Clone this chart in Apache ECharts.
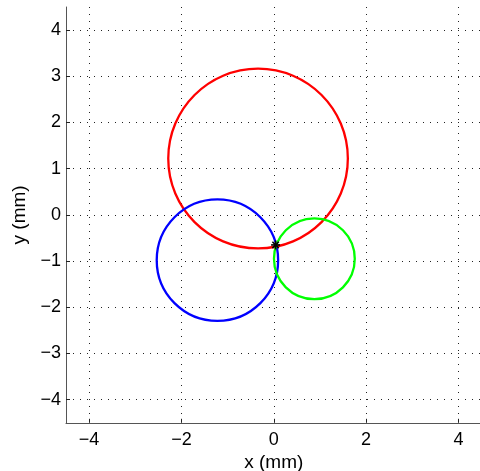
<!DOCTYPE html>
<html>
<head>
<meta charset="utf-8">
<script src="https://cdn.jsdelivr.net/npm/echarts@6/dist/echarts.min.js"></script>
<style>
html,body{margin:0;padding:0;background:#fff;}
#chart{width:480px;height:471px;}
</style>
</head>
<body>
<div id="chart"></div>
<script>
// circles: [centerX, centerY, radius] in mm
const redCircle = [[-0.34, 1.22, 1.945]];
const blueCircle = [[-1.22, -0.98, 1.315]];
const greenCircle = [[0.88, -0.95, 0.875]];
const starPoint = [[0.04, -0.65]];
const xTicks = [-4, -2, 0, 2, 4];
const yTicks = [-4, -3, -2, -1, 0, 1, 2, 3, 4];
const axisMin = -4.5;
const axisMax = 4.5;

const fmt = v => (v < 0 ? '\u2212' + (-v) : String(v));
const font = 'Liberation Sans, Arial, Helvetica, sans-serif';

function circleSeries(data, color) {
  return {
    type: 'custom',
    coordinateSystem: 'cartesian2d',
    data: data,
    encode: { x: 0, y: 1 },
    renderItem: function (params, api) {
      const c = api.coord([api.value(0), api.value(1)]);
      const rx = api.size([api.value(2), 0])[0];
      const ry = api.size([0, api.value(2)])[1];
      return {
        type: 'ellipse',
        shape: { cx: c[0], cy: c[1], rx: rx, ry: ry },
        style: { fill: 'none', stroke: color, lineWidth: 2.3 }
      };
    },
    silent: true,
    animation: false
  };
}

const chart = echarts.init(document.getElementById('chart'), null, { renderer: 'canvas' });
chart.setOption({
  backgroundColor: '#fff',
  animation: false,
  grid: { left: 66, top: 7, width: 415.5, height: 415.8, outerBoundsMode: 'none', containLabel: false },
  xAxis: {
    type: 'value', min: axisMin, max: axisMax,
    name: 'x (mm)', nameLocation: 'middle', nameGap: 29,
    nameTextStyle: { fontFamily: font, fontSize: 19, color: '#000' },
    axisLine: { show: true, onZero: false, lineStyle: { color: '#555', width: 1 } },
    axisTick: { show: true, inside: true, length: 4, customValues: xTicks, lineStyle: { color: '#222' } },
    axisLabel: { customValues: xTicks, formatter: fmt, margin: 8, fontFamily: font, fontSize: 18, color: '#000' },
    splitLine: { show: true, lineStyle: { color: '#222', type: [1, 6], width: 1 } }
  },
  yAxis: {
    type: 'value', min: axisMin, max: axisMax,
    name: 'y (mm)', nameLocation: 'middle', nameGap: 33, nameRotate: 90,
    nameTextStyle: { fontFamily: font, fontSize: 19, color: '#000' },
    axisLine: { show: true, onZero: false, lineStyle: { color: '#555', width: 1 } },
    axisTick: { show: true, inside: true, length: 4, customValues: yTicks, lineStyle: { color: '#222' } },
    axisLabel: { customValues: yTicks, formatter: fmt, margin: 5, fontFamily: font, fontSize: 18, color: '#000' },
    splitLine: { show: true, lineStyle: { color: '#222', type: [1, 6], width: 1 } }
  },
  series: [
    circleSeries(redCircle, '#ff0000'),
    circleSeries(blueCircle, '#0000ff'),
    circleSeries(greenCircle, '#00ff00'),
    {
      type: 'custom',
      coordinateSystem: 'cartesian2d',
      data: starPoint,
      encode: { x: 0, y: 1 },
      renderItem: function (params, api) {
        const c = api.coord([api.value(0), api.value(1)]);
        const s = 4.5, d = 3.2;
        const st = { stroke: '#000', lineWidth: 1.6 };
        return {
          type: 'group',
          children: [
            { type: 'line', shape: { x1: c[0] - s, y1: c[1], x2: c[0] + s, y2: c[1] }, style: st },
            { type: 'line', shape: { x1: c[0], y1: c[1] - s, x2: c[0], y2: c[1] + s }, style: st },
            { type: 'line', shape: { x1: c[0] - d, y1: c[1] - d, x2: c[0] + d, y2: c[1] + d }, style: st },
            { type: 'line', shape: { x1: c[0] - d, y1: c[1] + d, x2: c[0] + d, y2: c[1] - d }, style: st }
          ]
        };
      },
      silent: true,
      z: 10
    }
  ]
});
</script>
</body>
</html>
